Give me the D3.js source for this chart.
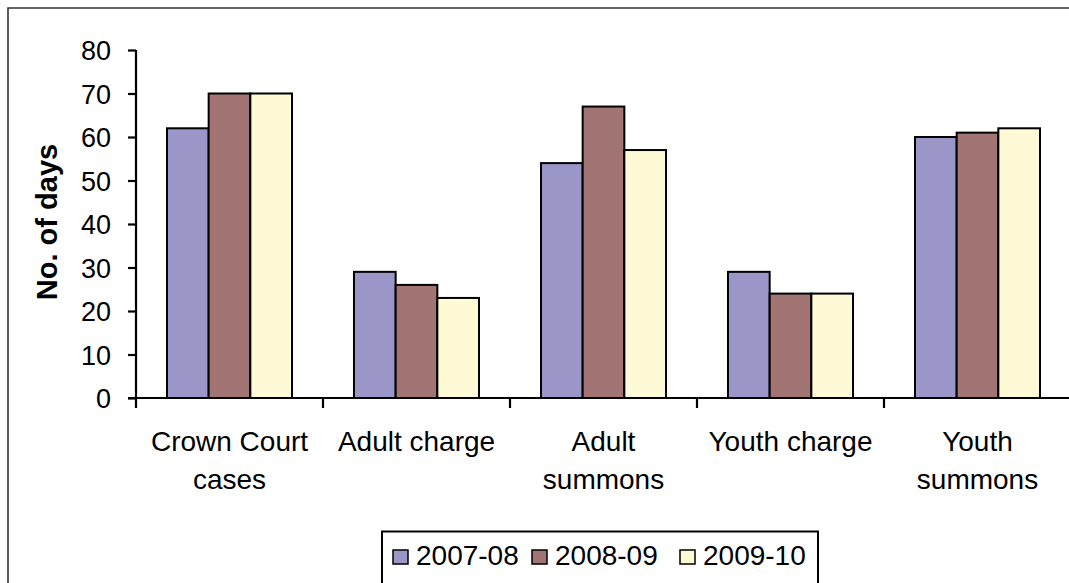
<!DOCTYPE html>
<html>
<head>
<meta charset="utf-8">
<script src="https://cdn.jsdelivr.net/npm/d3@7"></script>
<style>
  html, body { margin: 0; padding: 0; background: #fff; }
  svg { display: block; }
  text { font-family: "Liberation Sans", Arial, sans-serif; fill: #000; }
</style>
</head>
<body>
<svg id="chart" width="1069" height="583"></svg>
<script>
// Average number of days per case type, by year
const categories = [["Crown Court", "cases"], ["Adult charge"], ["Adult", "summons"], ["Youth charge"], ["Youth", "summons"]];
const seriesNames = ["2007-08", "2008-09", "2009-10"];
const values2007 = [62, 29, 54, 29, 60];
const values2008 = [70, 26, 67, 24, 61];
const values2009 = [70, 23, 57, 24, 62];
const yTicks = [0, 10, 20, 30, 40, 50, 60, 70, 80];
const colors = ["#9b96c8", "#a37474", "#fffad6"];

const series = [values2007, values2008, values2009];
const svg = d3.select("#chart");

// outer frame (top and left edges visible)
svg.append("path")
  .attr("d", "M8,583 L8,8 L1069,8")
  .attr("fill", "none").attr("stroke", "#333").attr("stroke-width", 1.6);

const plot = { left: 136, right: 1071, top: 50, bottom: 398 };
const x0 = d3.scaleBand().domain(d3.range(categories.length)).range([plot.left, plot.right]).paddingInner(0).paddingOuter(0);
const x1 = d3.scaleBand().domain(d3.range(seriesNames.length)).range([0, x0.bandwidth()]).paddingOuter(0.5 * 62 / 41.7).paddingInner(0);
const y = d3.scaleLinear().domain([0, 80]).range([plot.bottom, plot.top]);

// bars
const groups = svg.append("g").selectAll("g")
  .data(categories.map((c, i) => i))
  .join("g")
  .attr("transform", i => `translate(${x0(i)},0)`);

groups.selectAll("rect")
  .data(i => series.map((s, k) => ({ k, v: s[i] })))
  .join("rect")
  .attr("x", d => x1(d.k))
  .attr("y", d => y(d.v))
  .attr("width", x1.bandwidth())
  .attr("height", d => y(0) - y(d.v))
  .attr("fill", d => colors[d.k])
  .attr("stroke", "#000")
  .attr("stroke-width", 2);

// y axis
const yAxis = svg.append("g")
  .attr("transform", `translate(${plot.left},0)`)
  .call(d3.axisLeft(y).tickValues(yTicks).tickSize(8).tickPadding(17).tickFormat(d3.format("d")));
yAxis.select(".domain").attr("stroke", "#000").attr("stroke-width", 2.2).attr("d", `M0,${plot.top}V${plot.bottom}`);
yAxis.selectAll(".tick line").attr("stroke", "#000").attr("stroke-width", 2.2);
yAxis.selectAll(".tick text").attr("font-size", 27).attr("dy", "0.36em").attr("font-family", "'Liberation Sans', Arial, sans-serif").attr("fill", "#000");

// x axis with ticks at category boundaries
const xAxisG = svg.append("g");
xAxisG.append("line")
  .attr("x1", plot.left - 8).attr("x2", plot.right)
  .attr("y1", y(0)).attr("y2", y(0))
  .attr("stroke", "#000").attr("stroke-width", 2.2);
xAxisG.selectAll("line.tick")
  .data(d3.range(categories.length + 1))
  .join("line")
  .attr("class", "tick")
  .attr("x1", i => plot.left + i * x0.step()).attr("x2", i => plot.left + i * x0.step())
  .attr("y1", y(0)).attr("y2", y(0) + 10)
  .attr("stroke", "#000").attr("stroke-width", 2.2);

// category labels
const catLabels = svg.append("g").selectAll("text")
  .data(categories.map((c, i) => ({ c, i })))
  .join("text")
  .attr("text-anchor", "middle")
  .attr("font-size", 28)
  .attr("x", d => x0(d.i) + x0.bandwidth() / 2);
catLabels.selectAll("tspan")
  .data(d => d.c.map((line, j) => ({ line, j, x: x0(d.i) + x0.bandwidth() / 2 })))
  .join("tspan")
  .attr("x", d => d.x)
  .attr("y", d => 451 + d.j * 38)
  .text(d => d.line);

// y axis title
svg.append("text")
  .attr("transform", "translate(57,222) rotate(-90)")
  .attr("text-anchor", "middle")
  .attr("font-size", 29)
  .attr("font-weight", "bold")
  .text("No. of days");

// legend
const legend = svg.append("g");
legend.append("rect")
  .attr("x", 382).attr("y", 531.5).attr("width", 436).attr("height", 60)
  .attr("fill", "#fff").attr("stroke", "#000").attr("stroke-width", 2);
const legendX = [393, 532, 680];
const items = legend.selectAll("g.item")
  .data(seriesNames.map((n, k) => ({ n, k })))
  .join("g").attr("class", "item")
  .attr("transform", d => `translate(${legendX[d.k]},0)`);
items.append("rect")
  .attr("x", 0).attr("y", 550).attr("width", 15).attr("height", 14)
  .attr("fill", d => colors[d.k]).attr("stroke", "#000").attr("stroke-width", 1.5);
items.append("text")
  .attr("x", 23).attr("y", 565)
  .attr("font-size", 28)
  .text(d => d.n);
</script>
</body>
</html>
